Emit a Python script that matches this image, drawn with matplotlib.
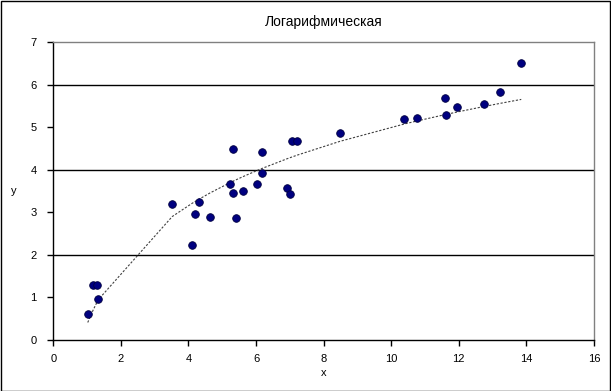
import numpy as np
import matplotlib
matplotlib.use("Agg")
import matplotlib.pyplot as plt
from matplotlib.patches import Rectangle

x_vals = [1.02, 1.18, 1.30, 1.33, 3.52, 4.10, 4.20, 4.30, 4.65, 5.24, 5.31, 5.31,
          5.41, 5.62, 6.04, 6.17, 6.19, 6.92, 7.01, 7.07, 7.22, 8.48, 10.38, 10.75,
          11.59, 11.63, 11.96, 12.75, 13.22, 13.85]
y_vals = [0.61, 1.29, 1.29, 0.96, 3.20, 2.24, 2.97, 3.25, 2.89, 3.66, 3.46, 4.49,
          2.87, 3.50, 3.67, 3.93, 4.42, 3.57, 3.43, 4.68, 4.69, 4.87, 5.19, 5.21,
          5.69, 5.29, 5.49, 5.55, 5.83, 6.52]
title = "Логарифмическая"
x_label = "x"
y_label = "y"
x_ticks = [0, 2, 4, 6, 8, 10, 12, 14, 16]
y_ticks = [0, 1, 2, 3, 4, 5, 6, 7]
grid_levels = [2, 4, 6]

plt.rcParams['font.family'] = ['Liberation Sans', 'DejaVu Sans']

fig = plt.figure(figsize=(6.11, 3.91), dpi=100)
ax = fig.add_axes([0.0872, 0.1304, 0.972 - 0.0872, 0.8918 - 0.1304])

xs = np.array(x_vals)
ys = np.array(y_vals)
a, b = np.polyfit(np.log(xs), ys, 1)
xt = np.unique(np.sort(xs))
ax.plot(xt, a * np.log(xt) + b, color='#404040', lw=0.8, ls=(0, (2, 1.5)), zorder=2)

for g in grid_levels:
    ax.axhline(g, color='black', lw=1, zorder=1)

ax.scatter(xs, ys, s=30, color='#000080', edgecolors='#000040', linewidths=0.6, zorder=3)

ax.set_xlim(0, 16)
ax.set_ylim(0, 7)
ax.set_xticks(x_ticks)
ax.set_yticks(y_ticks)
ax.tick_params(axis='both', direction='out', length=4, width=1, labelsize=8, color='black')
ax.tick_params(axis='x', pad=6)
ax.tick_params(axis='y', pad=8)
for s in ['left', 'bottom']:
    ax.spines[s].set_color('black')
    ax.spines[s].set_linewidth(1)
for s in ['top', 'right']:
    ax.spines[s].set_color('#808080')
    ax.spines[s].set_linewidth(1)

ax.set_title(title, fontsize=10, pad=12)
ax.set_xlabel(x_label, fontsize=8, labelpad=3)
ax.set_ylabel(y_label, fontsize=8, rotation=0, labelpad=12, va='center')

fig.patches.append(Rectangle((0.001, 0.001), 0.997, 0.997, transform=fig.transFigure,
                             fill=False, edgecolor='black', lw=1))

fig.savefig("out.png", dpi=100)
